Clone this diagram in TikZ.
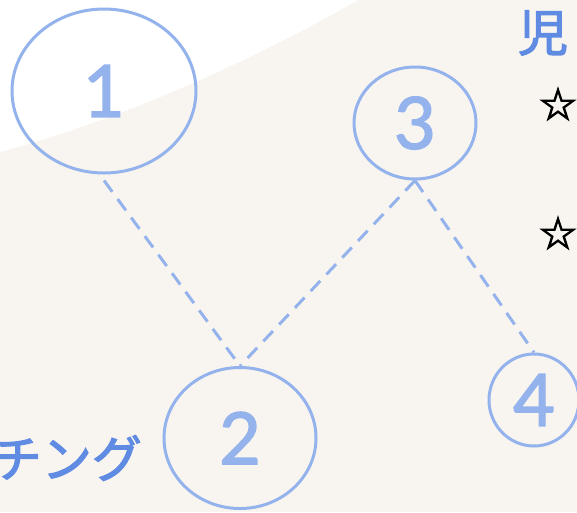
\documentclass[tikz,border=0pt]{standalone}
\usepackage{fontspec}
\usetikzlibrary{shapes.geometric}
\setmainfont{Lato}
\newfontfamily\cjkfont[FakeBold=2.5]{Noto Sans CJK JP}
\newfontfamily\symfont[FakeBold=2.5]{DejaVu Sans}
\newfontfamily\digitfont[FakeBold=2]{Lato}
\definecolor{bgbeige}{HTML}{F8F5F1}
\definecolor{ringblue}{HTML}{94B3EC}
\definecolor{textblue}{HTML}{5F8BE2}
\tikzset{
  ring/.style={ellipse, draw=ringblue, line width=3pt, inner sep=0pt, text=ringblue,
    font=\digitfont\fontsize{72}{72}\selectfont},
  link/.style={draw=ringblue, line width=3pt, dash pattern=on 14pt off 9pt},
  starmark/.style={inner sep=0pt, font=\symfont\fontsize{44}{44}\selectfont},
}
\begin{document}
\begin{tikzpicture}[x=1pt,y=-1pt]
\useasboundingbox (0,0) rectangle (577,512);
\clip (0,0) rectangle (577,512);
\fill[bgbeige] (0,0) rectangle (577,512);
\fill[white] (0,0) -- (0,152) .. controls (120,120) and (250,62) .. (358,0) -- cycle;
\node[ring, minimum width=184pt, minimum height=164pt] (n1) at (104,91) {1};
\node[ring, minimum width=152pt, minimum height=141pt] (n2) at (240,438) {2};
\node[ring, minimum width=122pt, minimum height=112pt] (n3) at (415,123) {3};
\node[ring, minimum width=90pt, minimum height=92pt] (n4) at (534,400) {4};
\draw[link] (n1.south) ++(0,6) coordinate (s1) (s1) -- (n2.north);
\draw[link] (n3.south) -- (n2.north);
\draw[link] (n3.south) -- (n4.north);
\node[text=textblue, font=\cjkfont\fontsize{50}{50}\selectfont, inner sep=0pt] (t1) at (543,33) {児};
\node[starmark] (st1) at (558,104) {☆};
\node[starmark] (st2) at (558,233) {☆};
\node[text=textblue, font=\cjkfont\fontsize{50}{50}\selectfont, inner sep=0pt, anchor=east] (t2) at (142,458) {チング};
\end{tikzpicture}
\end{document}
